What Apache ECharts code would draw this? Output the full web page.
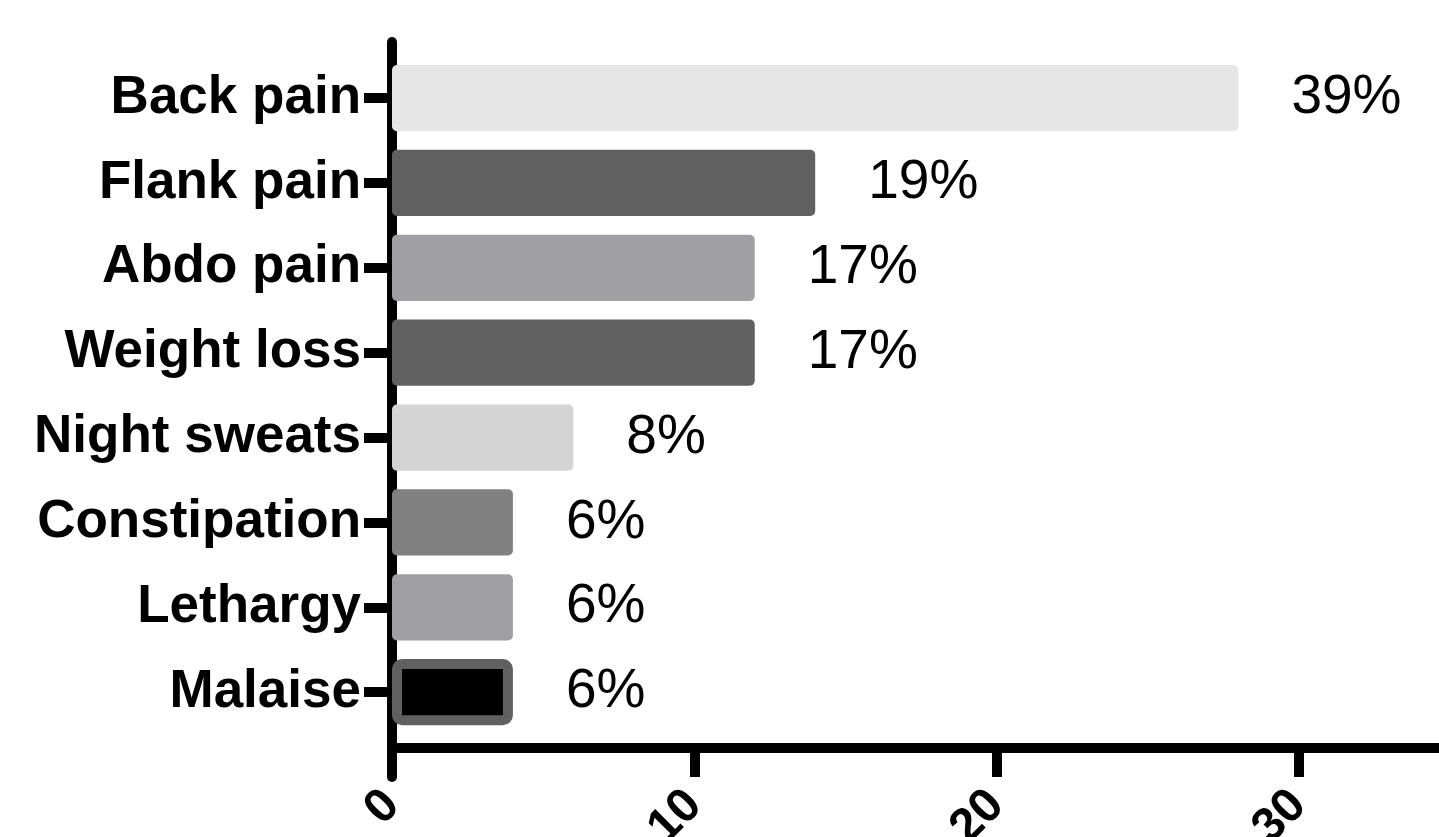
<!DOCTYPE html>
<html>
<head>
<meta charset="utf-8">
<title>Presenting symptoms</title>
<script src="https://cdn.jsdelivr.net/npm/echarts@6/dist/echarts.min.js"></script>
<style>
  html, body { margin: 0; padding: 0; background: #ffffff; }
  #chart { width: 1439px; height: 837px; }
</style>
</head>
<body>
<div id="chart"></div>
<script>
// Symptoms at presentation (number of patients, with share of the cohort)
const symptoms = ['Back pain', 'Flank pain', 'Abdo pain', 'Weight loss', 'Night sweats', 'Constipation', 'Lethargy', 'Malaise'];
const patientCounts = [28, 14, 12, 12, 6, 4, 4, 4];
const percentLabels = ['39%', '19%', '17%', '17%', '8%', '6%', '6%', '6%'];
const barColors = ['#e6e6e6', '#606060', '#a0a0a4', '#606060', '#d4d4d4', '#808080', '#a0a0a4', '#000000'];
const barBorders = [null, null, null, null, null, null, null, '#606060'];
const xTicks = [0, 10, 20, 30];

const FONT = '"Liberation Sans", Arial, Helvetica, sans-serif';

const chart = echarts.init(document.getElementById('chart'), null, { renderer: 'canvas' });

const barData = patientCounts.map((v, i) => {
  const style = { color: barColors[i], borderRadius: 5 };
  if (barBorders[i]) {
    style.borderColor = barBorders[i];
    style.borderWidth = 10;
  }
  return { value: v, itemStyle: style };
});

chart.setOption({
  backgroundColor: '#ffffff',
  animation: false,
  grid: [
    // plotting area for the bars
    { left: 392, right: -11, top: 55.6, height: 679, outerBoundsMode: 'none', containLabel: false },
    // taller frame that carries the vertical axis line
    { left: 392, right: -11, top: 42, bottom: 60, outerBoundsMode: 'none', containLabel: false }
  ],
  xAxis: [
    {
      type: 'value',
      gridIndex: 0,
      min: xTicks[0],
      max: 35,
      interval: xTicks[1] - xTicks[0],
      offset: 13.4,
      splitLine: { show: false },
      axisLine: { show: true, lineStyle: { color: '#000', width: 10 } },
      axisTick: { show: true, length: 29, lineStyle: { color: '#000', width: 10 } },
      axisLabel: {
        show: true,
        showMaxLabel: false,
        rotate: 45,
        margin: 50,
        color: '#000',
        fontFamily: FONT,
        fontWeight: 'bold',
        fontSize: 48,
        formatter: v => (xTicks.indexOf(v) >= 0 ? String(v) : '')
      }
    },
    {
      type: 'value',
      gridIndex: 1,
      show: false
    }
  ],
  yAxis: [
    {
      type: 'category',
      gridIndex: 0,
      data: symptoms,
      inverse: true,
      axisLine: { show: false },
      axisTick: { show: true, alignWithLabel: true, length: 28, lineStyle: { color: '#000', width: 10 } },
      axisLabel: {
        margin: 31,
        color: '#000',
        fontFamily: FONT,
        fontWeight: 'bold',
        fontSize: 53
      },
      splitLine: { show: false }
    },
    {
      type: 'value',
      gridIndex: 1,
      axisLine: { show: true, lineStyle: { color: '#000', width: 10 } },
      axisTick: { show: false },
      axisLabel: { show: false },
      splitLine: { show: false }
    }
  ],
  series: [
    {
      type: 'bar',
      xAxisIndex: 0,
      yAxisIndex: 0,
      data: barData,
      barCategoryGap: '22%',
      z: 1,
      label: {
        show: true,
        position: 'right',
        distance: 53,
        color: '#000',
        fontFamily: FONT,
        fontSize: 55,
        formatter: p => percentLabels[p.dataIndex]
      }
    }
  ]
});
</script>
</body>
</html>
